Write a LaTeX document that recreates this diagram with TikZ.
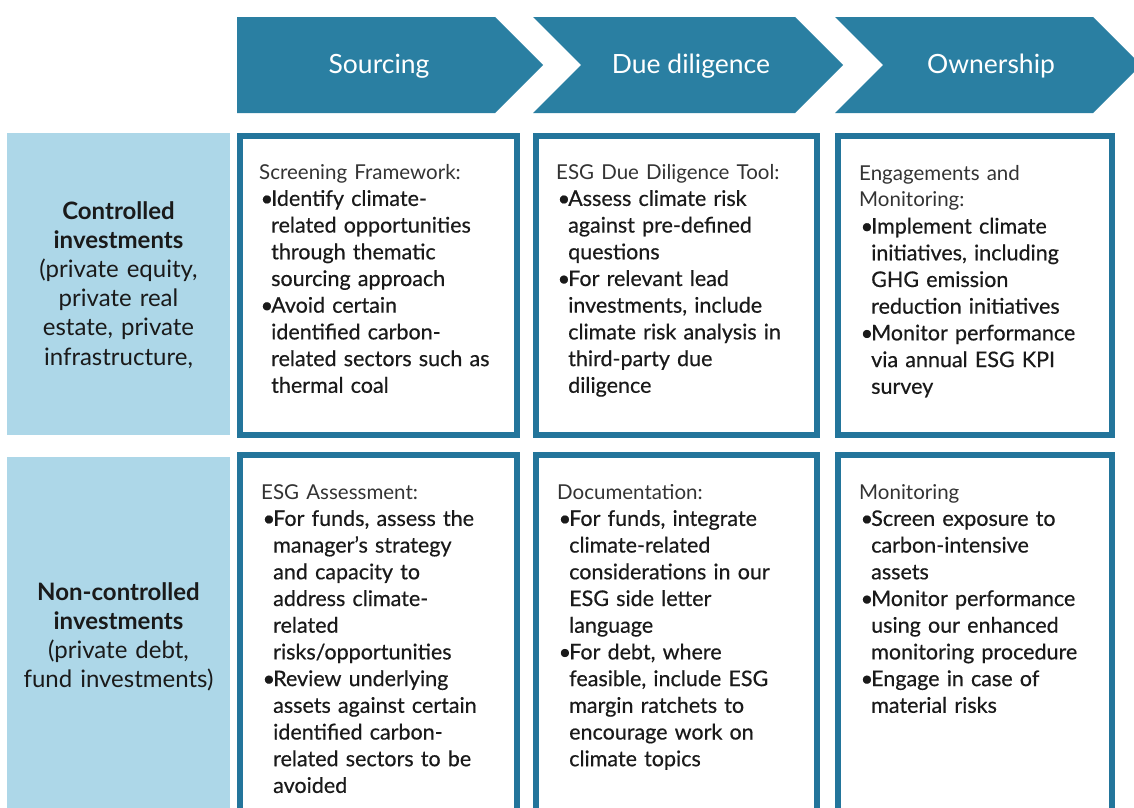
\documentclass[tikz,border=0pt]{standalone}
\usepackage{fontspec}
\setmainfont{Lato}
\newfontfamily\bodyfont[FakeBold=0.45, Ligatures=TeX]{Lato}
\definecolor{teal}{HTML}{2A7FA2}
\definecolor{frame}{HTML}{23759B}
\definecolor{rowblue}{HTML}{ADD7E8}
\definecolor{ink}{HTML}{1A1A1A}
\definecolor{headink}{HTML}{333333}
% one bulleted line and one continuation line of a cell
\newcommand\bulletline[1]{\makebox[12pt][l]{\hspace{1.5pt}•}#1}
\newcommand\indentline[1]{\hspace*{12pt}#1}
\newcommand\cellhead[1]{{\normalfont\fontsize{20.5}{26.7}\selectfont\color{headink}#1}}
\tikzset{
  phase/.style={fill=teal, draw=none},
  phasetext/.style={text=white, font=\fontsize{26.5}{30}\selectfont, inner sep=0},
  rowlabel/.style={fill=rowblue, draw=none},
  rowtext/.style={anchor=north, inner sep=0, align=center, text width=220pt,
    text=ink, font=\fontsize{24}{29.2}\selectfont},
  cell/.style={draw=frame, line width=6pt, fill=white},
  celltext/.style={anchor=north west, inner sep=0, align=left, text width=270pt,
    text=ink, font=\bodyfont\fontsize{21.5}{26.7}\selectfont}
}
\begin{document}
\begin{tikzpicture}[x=1pt, y=-1pt]
\useasboundingbox (0,0) rectangle (1134,807);
\clip (0,0) rectangle (1134,807);
\fill[white] (0,0) rectangle (1134,807);

% phase chevrons
\fill[phase] (237,17) -- (495,17) -- (543,65) -- (495,113) -- (237,113) -- cycle;
\fill[phase] (533,17) -- (795,17) -- (843,65) -- (795,113) -- (533,113) -- (581,65) -- cycle;
\fill[phase] (835,17) -- (1093,17) -- (1141,65) -- (1093,113) -- (835,113) -- (883,65) -- cycle;
\node[phasetext] (psrc) at (379,66) {Sourcing};
\node[phasetext] (pdd)  at (691,66) {Due diligence};
\node[phasetext] (pown) at (991,66) {Ownership};

% row labels
\fill[rowlabel] (7,133) rectangle (230,435);
\fill[rowlabel] (7,457) rectangle (230,812);
\node[rowtext] (lctrl) at (118.5,198.5)
  {\strut\textbf{Controlled}\\\textbf{investments}\\(private equity,\\private real\\estate, private\\infrastructure,};
\node[rowtext] (lnon) at (118.5,579.5)
  {\strut\textbf{Non-controlled}\\\textbf{investments}\\(private debt,\\fund investments)};

% cells, first row
\draw[cell] (240,136) rectangle (517,435);
\draw[cell] (536,136) rectangle (817,435);
\draw[cell] (838,136) rectangle (1112,435);
% cells, second row
\draw[cell] (240,455) rectangle (517,820);
\draw[cell] (536,455) rectangle (817,820);
\draw[cell] (838,455) rectangle (1112,820);

\node[celltext] (c11) at (259,160.3) {\strut\cellhead{Screening Framework:}\\
  \bulletline{Identify climate-}\\
  \indentline{related opportunities}\\
  \indentline{through thematic}\\
  \indentline{sourcing approach}\\
  \bulletline{Avoid certain}\\
  \indentline{identified carbon-}\\
  \indentline{related sectors such as}\\
  \indentline{thermal coal}};

\node[celltext] (c12) at (556,160.3) {\strut\cellhead{ESG Due Diligence Tool:}\\
  \bulletline{Assess climate risk}\\
  \indentline{against pre-defined}\\
  \indentline{questions}\\
  \bulletline{For relevant lead}\\
  \indentline{investments, include}\\
  \indentline{climate risk analysis in}\\
  \indentline{third-party due}\\
  \indentline{diligence}};

\node[celltext] (c13) at (859,161.3) {\strut\cellhead{Engagements and}\\
  \cellhead{Monitoring:}\\
  \bulletline{Implement climate}\\
  \indentline{initiatives, including}\\
  \indentline{GHG emission}\\
  \indentline{reduction initiatives}\\
  \bulletline{Monitor performance}\\
  \indentline{via annual ESG KPI}\\
  \indentline{survey}};

\node[celltext] (c21) at (261,480.3) {\strut\cellhead{ESG Assessment:}\\
  \bulletline{For funds, assess the}\\
  \indentline{manager's strategy}\\
  \indentline{and capacity to}\\
  \indentline{address climate-}\\
  \indentline{related}\\
  \indentline{risks/opportunities}\\
  \bulletline{Review underlying}\\
  \indentline{assets against certain}\\
  \indentline{identified carbon-}\\
  \indentline{related sectors to be}\\
  \indentline{avoided}};

\node[celltext] (c22) at (557,480.3) {\strut\cellhead{Documentation:}\\
  \bulletline{For funds, integrate}\\
  \indentline{climate-related}\\
  \indentline{considerations in our}\\
  \indentline{ESG side letter}\\
  \indentline{language}\\
  \bulletline{For debt, where}\\
  \indentline{feasible, include ESG}\\
  \indentline{margin ratchets to}\\
  \indentline{encourage work on}\\
  \indentline{climate topics}};

\node[celltext] (c23) at (859,480.3) {\strut\cellhead{Monitoring}\\
  \bulletline{Screen exposure to}\\
  \indentline{carbon-intensive}\\
  \indentline{assets}\\
  \bulletline{Monitor performance}\\
  \indentline{using our enhanced}\\
  \indentline{monitoring procedure}\\
  \bulletline{Engage in case of}\\
  \indentline{material risks}};
\end{tikzpicture}
\end{document}
